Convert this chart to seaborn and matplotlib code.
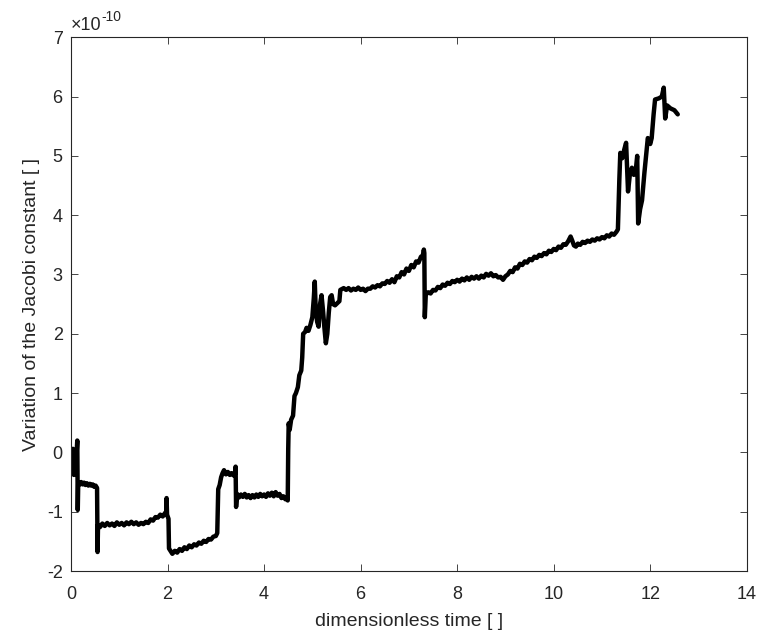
import numpy as np
import pandas as pd
import seaborn as sns
import matplotlib
matplotlib.use("Agg")
import matplotlib.pyplot as plt
from matplotlib.ticker import FuncFormatter

# DATA: dimensionless time and variation of the Jacobi constant (in units of 1e-10)
time_vals = [
    0.00, 0.02, 0.04, 0.06, 0.08, 0.10, 0.12, 0.13, 0.14, 0.15, 0.18, 0.21, 0.24, 0.27, 0.30,
    0.33, 0.36, 0.39, 0.42, 0.45, 0.48, 0.51, 0.54, 0.55, 0.56,
    0.60, 0.65, 0.70, 0.75, 0.80, 0.85, 0.90, 0.95, 1.00, 1.05, 1.10, 1.15, 1.20, 1.25, 1.30,
    1.35, 1.40, 1.45, 1.50, 1.55, 1.60, 1.65, 1.70, 1.75, 1.80, 1.85, 1.90, 1.95, 1.97, 1.98,
    1.99, 2.02, 2.03, 2.06, 2.10, 2.15, 2.20, 2.25, 2.30, 2.35, 2.40, 2.45, 2.50, 2.55, 2.60,
    2.65, 2.70, 2.75, 2.80, 2.85, 2.90, 2.95, 3.00, 3.03, 3.05, 3.08, 3.11, 3.14, 3.17, 3.21,
    3.25, 3.29, 3.33, 3.37, 3.40, 3.41, 3.42, 3.44, 3.48, 3.52, 3.56, 3.60, 3.64, 3.68, 3.72,
    3.76, 3.80, 3.84, 3.88, 3.92, 3.96, 4.00, 4.04, 4.08, 4.12, 4.16, 4.20, 4.24, 4.28, 4.32,
    4.36, 4.40, 4.44, 4.47, 4.49,
    4.50, 4.51, 4.53, 4.56, 4.60, 4.63, 4.66, 4.70, 4.73, 4.77, 4.79, 4.81, 4.85, 4.88, 4.92,
    4.96, 5.00, 5.03, 5.05, 5.07, 5.10, 5.13, 5.16, 5.19, 5.22, 5.25, 5.28, 5.31, 5.34, 5.37,
    5.40, 5.43, 5.47, 5.52, 5.56, 5.58,
    5.65, 5.70, 5.75, 5.80, 5.85, 5.90, 5.95, 6.00, 6.05, 6.10, 6.15, 6.20, 6.25, 6.30, 6.35,
    6.40, 6.45, 6.50, 6.55, 6.60, 6.65, 6.70, 6.75, 6.80, 6.85, 6.90, 6.95, 7.00, 7.05, 7.10,
    7.15, 7.20, 7.25, 7.28, 7.31, 7.32, 7.33, 7.35,
    7.40, 7.45, 7.50, 7.55, 7.60, 7.65, 7.70, 7.75, 7.80, 7.85, 7.90, 7.95, 8.00, 8.05, 8.10,
    8.15, 8.20, 8.25, 8.30, 8.35, 8.40, 8.45, 8.50, 8.55, 8.60, 8.65, 8.70, 8.75, 8.80, 8.85,
    8.90, 8.95, 9.00, 9.05, 9.10, 9.15, 9.20, 9.25, 9.30, 9.35, 9.40, 9.45, 9.50, 9.55, 9.60,
    9.65, 9.70, 9.75, 9.80, 9.85, 9.90, 9.95, 10.00, 10.05, 10.10, 10.15, 10.20, 10.25, 10.30,
    10.35, 10.38, 10.42, 10.46, 10.50, 10.55, 10.60, 10.65, 10.70, 10.75, 10.80, 10.85, 10.90,
    10.95, 11.00, 11.05, 11.10, 11.15, 11.20, 11.25, 11.30, 11.33,
    11.36, 11.38, 11.42, 11.46, 11.50, 11.54, 11.58, 11.62, 11.66, 11.70, 11.73, 11.75, 11.79,
    11.83, 11.88, 11.92, 11.95, 12.00, 12.03, 12.07, 12.10, 12.18, 12.24, 12.28, 12.31, 12.35,
    12.42, 12.50, 12.57,
]
jacobi_e10 = [
    0.00, -0.06, 0.06, -0.38, 0.02, -0.12, 0.05, 0.20, -0.97, -0.50, -0.54, -0.50, -0.54, -0.51, -0.55,
    -0.52, -0.56, -0.53, -0.56, -0.54, -0.58, -0.56, -0.60, -1.68, -1.22,
    -1.26, -1.20, -1.24, -1.19, -1.23, -1.20, -1.24, -1.18, -1.22, -1.19, -1.23, -1.18, -1.21, -1.17, -1.21,
    -1.18, -1.22, -1.19, -1.21, -1.17, -1.19, -1.13, -1.15, -1.09, -1.10, -1.05, -1.08, -1.02, -1.05, -0.77,
    -1.05, -1.12, -1.62, -1.66, -1.71, -1.66, -1.69, -1.63, -1.66, -1.60, -1.63, -1.57, -1.60, -1.55, -1.57,
    -1.52, -1.54, -1.49, -1.51, -1.46, -1.47, -1.42, -1.41, -1.36, -0.62, -0.55, -0.42, -0.35, -0.30, -0.37,
    -0.33, -0.38, -0.35, -0.39, -0.36, -0.24, -0.92, -0.70, -0.76, -0.71, -0.75, -0.70, -0.76, -0.72, -0.77,
    -0.72, -0.76, -0.71, -0.75, -0.70, -0.74, -0.71, -0.75, -0.69, -0.73, -0.68, -0.74, -0.67, -0.73, -0.70,
    -0.77, -0.74, -0.79, -0.76, -0.81,
    0.05, 0.49, 0.38, 0.55, 0.62, 0.95, 1.00, 1.10, 1.30, 1.38, 1.60, 2.00, 2.03, 2.10, 2.05,
    2.15, 2.28, 2.60, 2.88, 2.40, 2.20, 2.12, 2.50, 2.65, 2.40, 2.10, 1.84, 2.00, 2.35, 2.62,
    2.65, 2.50, 2.48, 2.52, 2.55, 2.74,
    2.77, 2.74, 2.77, 2.73, 2.76, 2.74, 2.78, 2.74, 2.76, 2.72, 2.76, 2.76, 2.80, 2.78, 2.82,
    2.80, 2.85, 2.84, 2.89, 2.86, 2.92, 2.87, 2.97, 2.95, 3.04, 3.00, 3.10, 3.06, 3.16, 3.12,
    3.22, 3.20, 3.30, 3.28, 3.42, 3.36, 2.28, 2.66,
    2.70, 2.68, 2.74, 2.73, 2.79, 2.77, 2.83, 2.81, 2.86, 2.84, 2.89, 2.87, 2.91, 2.88, 2.93,
    2.90, 2.95, 2.91, 2.96, 2.93, 2.97, 2.93, 2.98, 2.95, 3.01, 2.98, 3.02, 2.97, 2.99, 2.95,
    2.96, 2.91, 2.97, 3.00, 3.06, 3.04, 3.12, 3.10, 3.18, 3.16, 3.22, 3.20, 3.26, 3.24, 3.30,
    3.28, 3.33, 3.31, 3.36, 3.34, 3.40, 3.38, 3.43, 3.41, 3.47, 3.45, 3.51, 3.50, 3.56,
    3.64, 3.58, 3.49, 3.47, 3.52, 3.50, 3.55, 3.53, 3.57, 3.55, 3.59, 3.57, 3.61,
    3.59, 3.63, 3.61, 3.66, 3.64, 3.69, 3.67, 3.72, 3.76,
    4.60, 5.05, 4.96, 5.10, 5.22, 4.40, 4.70, 4.80, 4.68, 4.75, 5.00, 3.86, 4.10,
    4.25, 4.72, 5.05, 5.30, 5.20, 5.30, 5.70, 5.95, 5.97, 6.00, 6.15, 5.63, 5.85,
    5.80, 5.77, 5.70,
]
x_ticks = [0, 2, 4, 6, 8, 10, 12, 14]
y_ticks_e10 = [-2, -1, 0, 1, 2, 3, 4, 5, 6, 7]

df = pd.DataFrame({"t": time_vals, "dC": np.array(jacobi_e10) * 1e-10})

# STYLE (MATLAB-like look)
sns.set_style("white")
plt.rcParams.update({
    "font.family": ["Liberation Sans", "DejaVu Sans"],
    "axes.unicode_minus": False,
    "axes.edgecolor": "#262626",
    "axes.linewidth": 0.8,
    "text.color": "#262626",
    "axes.labelcolor": "#262626",
    "xtick.color": "#262626",
    "ytick.color": "#262626",
})

fig = plt.figure(figsize=(7.61, 6.40), dpi=100)
ax = fig.add_axes([0.0933, 0.1078, 0.888, 0.834])

sns.lineplot(data=df, x="t", y="dC", ax=ax, color="black", linewidth=3.2,
             sort=False, estimator=None)

ax.set_xlim(0, 14)
ax.set_ylim(-2e-10, 7e-10)
ax.set_xticks(x_ticks)
ax.set_yticks(np.array(y_ticks_e10) * 1e-10)
ax.yaxis.set_major_formatter(FuncFormatter(lambda v, p: f"{int(round(v * 1e10))}"))

ax.tick_params(direction="in", length=5, width=0.6, labelsize=13,
               top=True, right=True, bottom=True, left=True)
ax.tick_params(axis="x", pad=11)
ax.tick_params(axis="y", pad=6)

# exponent label, MATLAB style
mult = ax.text(0.0, 1.006, "\u00d710", transform=ax.transAxes,
               ha="left", va="bottom", fontsize=13)
ax.annotate("-10", xy=(1.0, 0.62), xycoords=mult, ha="left", va="bottom", fontsize=10)

ax.set_xlabel("dimensionless time [ ]", fontsize=14, labelpad=7)
ax.set_ylabel("Variation of the Jacobi constant [ ]", fontsize=14, labelpad=5)

for s in ax.spines.values():
    s.set_visible(True)

fig.savefig("out.png", dpi=100)
